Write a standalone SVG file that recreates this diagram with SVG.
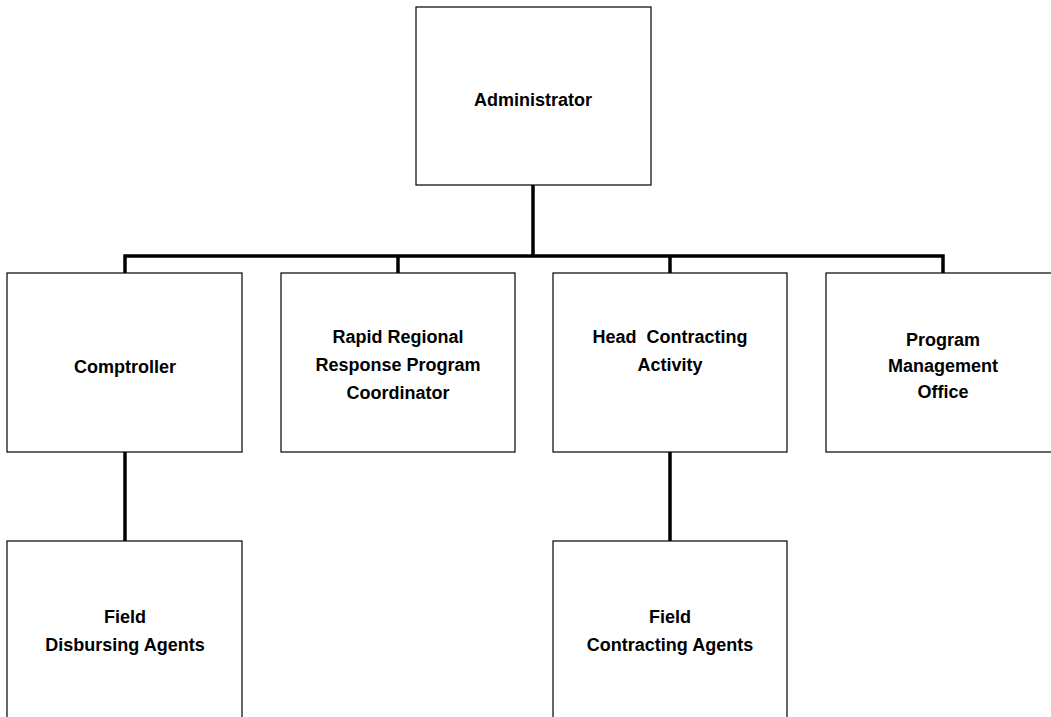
<svg xmlns="http://www.w3.org/2000/svg" width="1051" height="717" viewBox="0 0 1051 717">
<style>
.box{fill:#fff;stroke:#000;stroke-width:1.2}
.lbl{font-family:"Liberation Sans",Arial,sans-serif;font-weight:bold;font-size:18px;fill:#000;text-anchor:middle;white-space:pre}
.conn{fill:none;stroke:#000;stroke-width:3.5}
</style>
<rect width="1051" height="717" fill="#fff"/>
<g id="connectors">
<line class="conn" x1="533" y1="185" x2="533" y2="256"/>
<polyline class="conn" points="125,273 125,256 943,256 943,273"/>
<line class="conn" x1="398" y1="256" x2="398" y2="273"/>
<line class="conn" x1="670" y1="256" x2="670" y2="273"/>
<line class="conn" x1="125" y1="452" x2="125" y2="541"/>
<line class="conn" x1="670" y1="452" x2="670" y2="541"/>
</g>
<g id="administrator">
<rect class="box" x="416" y="7" width="235" height="178"/>
<text class="lbl" x="533" y="106">Administrator</text>
</g>
<g id="comptroller">
<rect class="box" x="7" y="273" width="235" height="179"/>
<text class="lbl" x="125" y="373">Comptroller</text>
</g>
<g id="rapid-regional">
<rect class="box" x="281" y="273" width="234" height="179"/>
<text class="lbl" x="398" y="343">Rapid Regional</text>
<text class="lbl" x="398" y="371">Response Program</text>
<text class="lbl" x="398" y="399">Coordinator</text>
</g>
<g id="head-contracting">
<rect class="box" x="553" y="273" width="234" height="179"/>
<text class="lbl" x="670" y="343" xml:space="preserve">Head  Contracting</text>
<text class="lbl" x="670" y="371">Activity</text>
</g>
<g id="program-management">
<rect class="box" x="826" y="273" width="240" height="179"/>
<text class="lbl" x="943" y="346">Program</text>
<text class="lbl" x="943" y="372">Management</text>
<text class="lbl" x="943" y="398">Office</text>
</g>
<g id="field-disbursing">
<rect class="box" x="7" y="541" width="235" height="190"/>
<text class="lbl" x="125" y="623">Field</text>
<text class="lbl" x="125" y="651">Disbursing Agents</text>
</g>
<g id="field-contracting">
<rect class="box" x="553" y="541" width="234" height="190"/>
<text class="lbl" x="670" y="623">Field</text>
<text class="lbl" x="670" y="651">Contracting Agents</text>
</g>
</svg>
